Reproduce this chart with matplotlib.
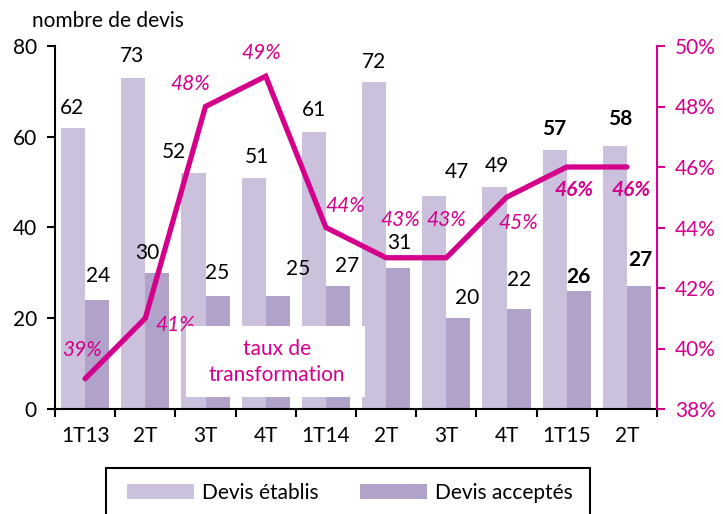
#Devis etablis / acceptes et taux de transformation

#Import libraries
import numpy as np
import matplotlib.pyplot as plt
from matplotlib.patches import Rectangle

#Data
quarters = ['1T13', '2T', '3T', '4T', '1T14', '2T', '3T', '4T', '1T15', '2T']
devis_etablis = [62, 73, 52, 51, 61, 72, 47, 49, 57, 58]
devis_acceptes = [24, 30, 25, 25, 27, 31, 20, 22, 26, 27]
taux = [39, 41, 48, 49, 44, 43, 43, 45, 46, 46]

#Label offsets in pixels (dx, dy) - hand placed as in the original
off_etablis = [(-1, 20), (-1, 22), (-20, 21), (3, 21), (0, 22), (0, 20), (23, 24), (2, 21), (0, 21), (5, 27)]
off_acceptes = [(1, 24), (-10, 20), (0, 23), (20, 27), (9, 20), (1, 25), (9, 20), (1, 29), (0, 14), (1, 26)]
off_taux = [(-3, 29), (30, -7), (-15, 23), (-4, 23), (19, 22), (14, 38), (0, 38), (12, -26), (7, -23), (4, -23)]
bold_from = 8

light = '#CBC1DC'
dark = '#B1A2C9'
magenta = '#D4008C'

plt.rcParams['font.family'] = ['Lato', 'DejaVu Sans']
plt.rcParams['font.size'] = 15

fig = plt.figure(figsize=(7.23, 5.14), dpi=100)
ax = fig.add_axes([55/723, 1-409/514, 602/723, 363/514])
ax2 = ax.twinx()

x = np.arange(len(quarters))
w = 0.4
ax.bar(x - w/2, devis_etablis, w, color=light, label='Devis établis', zorder=2)
ax.bar(x + w/2, devis_acceptes, w, color=dark, label='Devis acceptés', zorder=2)
ax.set_xlim(-0.5, len(quarters) - 0.5)
ax.set_ylim(0, 80)
ax.set_yticks([0, 20, 40, 60, 80])
ax.set_xticks(x)
ax.set_xticklabels(quarters)
ax.set_xticks(np.arange(-0.5, len(quarters)), minor=True)
ax.tick_params(axis='x', which='major', length=0, pad=12)
ax.tick_params(axis='x', which='minor', length=6, width=1.5, direction='out')
ax.tick_params(axis='y', length=6, width=1.5, direction='out', pad=7)
for s in ['top', 'right']:
    ax.spines[s].set_visible(False)
ax.spines['left'].set_linewidth(1.5)
ax.spines['bottom'].set_linewidth(1.5)

fig.text(32/723, 1-21/514, 'nombre de devis', ha='left', va='center')

for i in range(len(quarters)):
    fw = 'bold' if i >= bold_from else 'normal'
    ax.annotate(str(devis_etablis[i]), (x[i] - w/2, devis_etablis[i]), xytext=off_etablis[i],
                textcoords='offset pixels', ha='center', va='center', fontweight=fw, zorder=5)
    ax.annotate(str(devis_acceptes[i]), (x[i] + w/2, devis_acceptes[i]), xytext=off_acceptes[i],
                textcoords='offset pixels', ha='center', va='center', fontweight=fw, zorder=5)

#Secondary axis : taux de transformation
ax2.plot(x, taux, color=magenta, linewidth=3.8, solid_capstyle='round', solid_joinstyle='miter', zorder=4)
ax2.set_ylim(38, 50)
ax2.set_yticks(np.arange(38, 51, 2))
ax2.set_yticklabels(['%d%%' % v for v in np.arange(38, 51, 2)])
ax2.tick_params(axis='y', colors=magenta, length=6, width=1.5, direction='out', pad=7)
for s in ['top', 'left', 'bottom']:
    ax2.spines[s].set_visible(False)
ax2.spines['right'].set_color(magenta)
ax2.spines['right'].set_linewidth(1.5)

for i in range(len(quarters)):
    fw = 'bold' if i >= bold_from else 'normal'
    ax2.annotate('%d%%' % taux[i], (x[i], taux[i]), xytext=off_taux[i], textcoords='offset pixels',
                 ha='center', va='center', color=magenta, style='italic', fontweight=fw)

#White box with line name
fig.patches.append(Rectangle((186/723, 1-397/514), 179/723, 71/514, transform=fig.transFigure,
                             facecolor='white', edgecolor='none', zorder=3))
fig.text(277/723, 1-362/514, 'taux de\ntransformation', ha='center', va='center',
         color=magenta, linespacing=1.4, zorder=4)

#Legend
fig.patches.append(Rectangle((106/723, -10/514), 484/723, 56/514, transform=fig.transFigure,
                             facecolor='white', edgecolor='black', linewidth=1.5))
fig.legend(loc='center', bbox_to_anchor=(350/723, 1-493/514), ncol=2, frameon=False,
           handlelength=3.2, handleheight=0.7, columnspacing=2.0, handletextpad=0.4)

fig.savefig('out.png', dpi=100)
